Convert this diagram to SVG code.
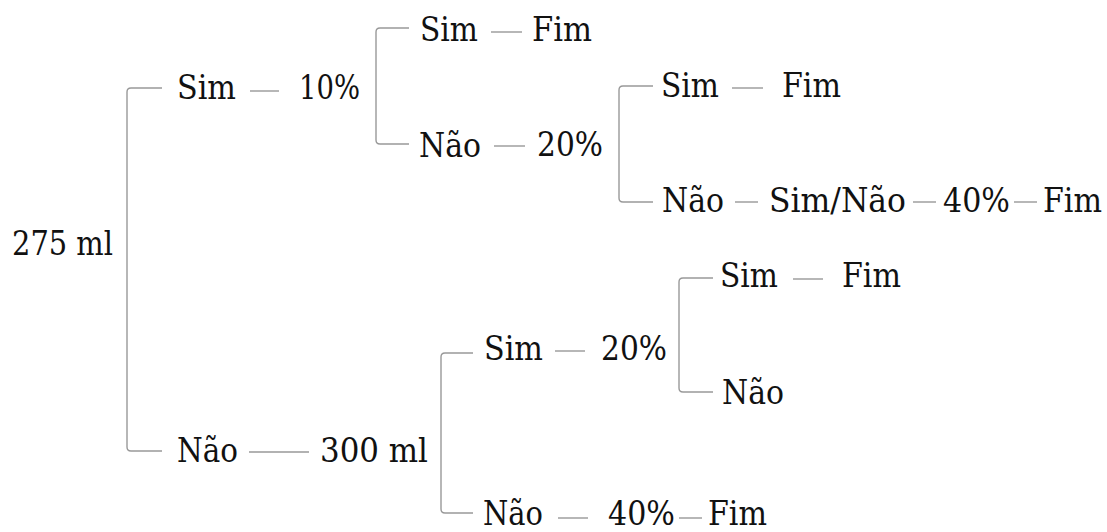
<svg xmlns="http://www.w3.org/2000/svg" width="1107" height="532" viewBox="0 0 1107 532">
  <style>
    .lbl { font-size: 33px; fill: #111; }
    .br, .dash { fill: none; stroke: #999; stroke-width: 1.4; }
  </style>
  <rect width="1107" height="532" fill="#fff"/>

  <!-- connectors: brackets and short dashes -->
  <g id="connectors">
    <path class="br" d="M162 88 H131 Q127 88 127 92 V447 Q127 451 131 451 H162"/>
    <path class="br" d="M409 28 H380 Q376 28 376 32 V140 Q376 144 380 144 H409"/>
    <path class="br" d="M653 86 H623 Q619 86 619 90 V198 Q619 202 623 202 H653"/>
    <path class="br" d="M473 353 H445 Q441 353 441 357 V509 Q441 513 445 513 H473"/>
    <path class="br" d="M713 278 H683 Q679 278 679 282 V388 Q679 392 683 392 H713"/>

    <line class="dash" x1="250" y1="91" x2="279" y2="91"/>
    <line class="dash" x1="491" y1="32" x2="522" y2="32"/>
    <line class="dash" x1="494" y1="146" x2="525" y2="146"/>
    <line class="dash" x1="732" y1="88" x2="763" y2="88"/>
    <line class="dash" x1="735" y1="202" x2="758" y2="202"/>
    <line class="dash" x1="913" y1="202" x2="936" y2="202"/>
    <line class="dash" x1="1014" y1="202" x2="1037" y2="202"/>
    <line class="dash" x1="249" y1="452" x2="309" y2="452"/>
    <line class="dash" x1="555" y1="351" x2="585" y2="351"/>
    <line class="dash" x1="793" y1="279" x2="823" y2="279"/>
    <line class="dash" x1="558" y1="518" x2="588" y2="518"/>
    <line class="dash" x1="679" y1="518" x2="702" y2="518"/>
  </g>

  <g font-family="DejaVu Serif, serif">
  <g id="root"><text class="lbl" x="12" y="255" textLength="101" lengthAdjust="spacingAndGlyphs">275 ml</text></g>

  <g id="branch-sim">
    <text class="lbl" x="177" y="99" textLength="59" lengthAdjust="spacingAndGlyphs">Sim</text>
    <text class="lbl" x="299" y="99" textLength="61" lengthAdjust="spacingAndGlyphs">10%</text>
  </g>
  <g id="branch-sim-sim">
    <text class="lbl" x="420" y="41" textLength="58" lengthAdjust="spacingAndGlyphs">Sim</text>
    <text class="lbl" x="532" y="41" textLength="60" lengthAdjust="spacingAndGlyphs">Fim</text>
  </g>
  <g id="branch-sim-nao">
    <text class="lbl" x="419" y="157" textLength="62" lengthAdjust="spacingAndGlyphs">Não</text>
    <text class="lbl" x="537" y="156" textLength="66" lengthAdjust="spacingAndGlyphs">20%</text>
  </g>
  <g id="branch-sim-nao-sim">
    <text class="lbl" x="661" y="97" textLength="58" lengthAdjust="spacingAndGlyphs">Sim</text>
    <text class="lbl" x="782" y="97" textLength="59" lengthAdjust="spacingAndGlyphs">Fim</text>
  </g>
  <g id="branch-sim-nao-nao">
    <text class="lbl" x="662" y="212" textLength="62" lengthAdjust="spacingAndGlyphs">Não</text>
    <text class="lbl" x="769" y="212" textLength="137" lengthAdjust="spacingAndGlyphs">Sim/Não</text>
    <text class="lbl" x="943" y="212" textLength="67" lengthAdjust="spacingAndGlyphs">40%</text>
    <text class="lbl" x="1043" y="212" textLength="59" lengthAdjust="spacingAndGlyphs">Fim</text>
  </g>

  <g id="branch-nao">
    <text class="lbl" x="177" y="462" textLength="61" lengthAdjust="spacingAndGlyphs">Não</text>
    <text class="lbl" x="320" y="462" textLength="108" lengthAdjust="spacingAndGlyphs">300 ml</text>
  </g>
  <g id="branch-nao-sim">
    <text class="lbl" x="484" y="360" textLength="59" lengthAdjust="spacingAndGlyphs">Sim</text>
    <text class="lbl" x="601" y="360" textLength="66" lengthAdjust="spacingAndGlyphs">20%</text>
  </g>
  <g id="branch-nao-sim-sim">
    <text class="lbl" x="720" y="287" textLength="58" lengthAdjust="spacingAndGlyphs">Sim</text>
    <text class="lbl" x="842" y="287" textLength="59" lengthAdjust="spacingAndGlyphs">Fim</text>
  </g>
  <g id="branch-nao-sim-nao">
    <text class="lbl" x="722" y="404" textLength="62" lengthAdjust="spacingAndGlyphs">Não</text>
  </g>
  <g id="branch-nao-nao">
    <text class="lbl" x="483" y="525" textLength="60" lengthAdjust="spacingAndGlyphs">Não</text>
    <text class="lbl" x="608" y="525" textLength="67" lengthAdjust="spacingAndGlyphs">40%</text>
    <text class="lbl" x="708" y="525" textLength="59" lengthAdjust="spacingAndGlyphs">Fim</text>
  </g>
  </g>
</svg>
